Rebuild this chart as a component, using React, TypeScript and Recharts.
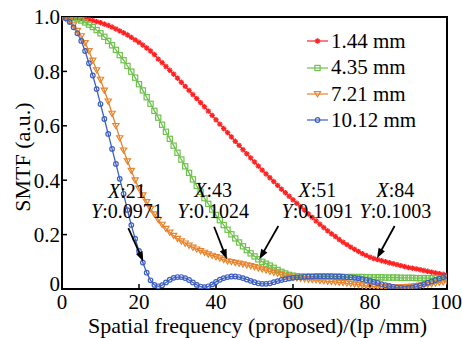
import React from 'react';
import { LineChart, Line, XAxis, YAxis, ReferenceArea, ReferenceDot, Label } from 'recharts';

const FONT = '"Liberation Serif", "Times New Roman", serif';

// Spatial frequency categories (lp/mm)
const frequency = Array.from({ length: 101 }, (_, i) => i);

const smtf144 = [
  1.000, 1.000, 0.999, 0.998, 0.997, 0.995, 0.993, 0.990, 0.987, 0.983,
  0.979, 0.974, 0.969, 0.963, 0.956, 0.949, 0.942, 0.934, 0.925, 0.916,
  0.907, 0.897, 0.886, 0.875, 0.862, 0.845, 0.832, 0.818, 0.804, 0.790,
  0.775, 0.760, 0.745, 0.730, 0.715, 0.700, 0.685, 0.670, 0.654, 0.638,
  0.622, 0.606, 0.590, 0.575, 0.559, 0.543, 0.528, 0.512, 0.497, 0.482,
  0.467, 0.452, 0.437, 0.423, 0.409, 0.395, 0.381, 0.367, 0.354, 0.341,
  0.328, 0.315, 0.302, 0.290, 0.276, 0.263, 0.250, 0.238, 0.226, 0.214,
  0.203, 0.193, 0.182, 0.172, 0.163, 0.154, 0.146, 0.138, 0.130, 0.1235,
  0.117, 0.112, 0.108, 0.104, 0.1003, 0.0965, 0.093, 0.0895, 0.086, 0.0825,
  0.079, 0.0765, 0.074, 0.071, 0.068, 0.065, 0.062, 0.059, 0.0565, 0.054,
  0.051,
];

const smtf435 = [
  1.000, 1.000, 0.998, 0.996, 0.992, 0.987, 0.980, 0.972, 0.963, 0.952,
  0.940, 0.927, 0.912, 0.896, 0.879, 0.860, 0.841, 0.820, 0.799, 0.777,
  0.753, 0.730, 0.705, 0.681, 0.655, 0.630, 0.604, 0.578, 0.552, 0.527,
  0.501, 0.476, 0.451, 0.427, 0.403, 0.379, 0.357, 0.334, 0.313, 0.292,
  0.272, 0.253, 0.235, 0.218, 0.201, 0.186, 0.171, 0.157, 0.143, 0.131,
  0.120, 0.1091, 0.100, 0.093, 0.086, 0.078, 0.070, 0.063, 0.057, 0.052,
  0.049, 0.047, 0.046, 0.045, 0.045, 0.045, 0.045, 0.045, 0.045, 0.045,
  0.045, 0.045, 0.045, 0.044, 0.044, 0.044, 0.044, 0.044, 0.044, 0.043,
  0.043, 0.043, 0.043, 0.043, 0.042, 0.042, 0.042, 0.042, 0.041, 0.041,
  0.041, 0.041, 0.040, 0.040, 0.040, 0.040, 0.040, 0.040, 0.040, 0.040,
  0.040,
];

const smtf721 = [
  1.000, 0.995, 0.985, 0.970, 0.950, 0.930, 0.905, 0.875, 0.840, 0.805,
  0.770, 0.730, 0.690, 0.645, 0.600, 0.555, 0.510, 0.470, 0.435, 0.400,
  0.370, 0.345, 0.320, 0.295, 0.275, 0.255, 0.237, 0.222, 0.208, 0.196,
  0.185, 0.176, 0.168, 0.160, 0.153, 0.146, 0.140, 0.134, 0.128, 0.123,
  0.118, 0.113, 0.108, 0.1024, 0.100, 0.097, 0.094, 0.091, 0.088, 0.085,
  0.081, 0.077, 0.073, 0.069, 0.065, 0.061, 0.057, 0.053, 0.049, 0.046,
  0.043, 0.041, 0.039, 0.037, 0.035, 0.034, 0.033, 0.031, 0.030, 0.028,
  0.027, 0.026, 0.024, 0.023, 0.021, 0.020, 0.018, 0.016, 0.014, 0.012,
  0.011, 0.010, 0.009, 0.008, 0.008, 0.007, 0.007, 0.007, 0.007, 0.008,
  0.009, 0.010, 0.011, 0.013, 0.015, 0.017, 0.019, 0.021, 0.024, 0.026,
  0.029,
];

const smtf1012 = [
  1.000, 0.995, 0.982, 0.962, 0.940, 0.912, 0.875, 0.830, 0.785, 0.735,
  0.680, 0.625, 0.570, 0.515, 0.460, 0.405, 0.350, 0.290, 0.235, 0.185,
  0.140, 0.0971, 0.060, 0.032, 0.015, 0.010, 0.014, 0.024, 0.034, 0.041,
  0.044, 0.044, 0.040, 0.033, 0.024, 0.015, 0.009, 0.007, 0.010, 0.017,
  0.026, 0.034, 0.040, 0.044, 0.046, 0.046, 0.044, 0.040, 0.035, 0.030,
  0.025, 0.021, 0.019, 0.019, 0.021, 0.025, 0.029, 0.033, 0.036, 0.039,
  0.041, 0.043, 0.044, 0.045, 0.046, 0.046, 0.047, 0.047, 0.047, 0.047,
  0.047, 0.046, 0.046, 0.045, 0.044, 0.043, 0.041, 0.039, 0.036, 0.033,
  0.030, 0.026, 0.022, 0.018, 0.014, 0.011, 0.008, 0.005, 0.004, 0.003,
  0.004, 0.006, 0.009, 0.013, 0.018, 0.023, 0.028, 0.033, 0.038, 0.043,
  0.048,
];

const seriesKeys = ['s144', 's435', 's721', 's1012'];
const seriesNames = ['1.44 mm', '4.35 mm', '7.21 mm', '10.12 mm'];
const seriesColors = ['#ff2222', '#6fc24c', '#e8842c', '#3d5fc2'];
const seriesMarkers = ['star', 'square', 'triangle', 'circle'];
const seriesValues = [smtf144, smtf435, smtf721, smtf1012];

const xTicks = [0, 20, 40, 60, 80, 100];
const yTicks = [0, 0.2, 0.4, 0.6, 0.8, 1.0];

const annotX = [21, 43, 51, 84];
const annotY = [0.0971, 0.1024, 0.1091, 0.1003];
const annotXText = ['21', '43', '51', '84'];
const annotYText = ['0.0971', '0.1024', '0.1091', '0.1003'];
// pixel layout of each callout relative to its data point
const annotLayout = [
  { tip: [0.5, -1], tail: [-14.5, -34.5], tx: -16, xb: -65, yb: -45 },
  { tip: [-0.7, -1.8], tail: [-13.4, -34.4], tx: -14.4, xb: -64, yb: -43.6 },
  { tip: [1, 0], tail: [20, -33.3], tx: 59, xb: -62.3, yb: -41.8 },
  { tip: [-8.4, -3.4], tail: [9.2, -35.7], tx: 10, xb: -64.7, yb: -44.2 },
];

const data = frequency.map((f, i) => {
  const row: any = { f };
  seriesKeys.forEach((k, s) => {
    row[k] = seriesValues[s][i];
  });
  return row;
});

function Marker({ kind, cx, cy, color }: { kind: string; cx: number; cy: number; color: string }) {
  if (cx == null || cy == null) return null;
  if (kind === 'star') {
    const r = 2.7;
    return (
      <g stroke={color} strokeWidth={1.4} fill="none">
        <line x1={cx - r} y1={cy} x2={cx + r} y2={cy} />
        <line x1={cx} y1={cy - r} x2={cx} y2={cy + r} />
        <line x1={cx - r * 0.7} y1={cy - r * 0.7} x2={cx + r * 0.7} y2={cy + r * 0.7} />
        <line x1={cx - r * 0.7} y1={cy + r * 0.7} x2={cx + r * 0.7} y2={cy - r * 0.7} />
      </g>
    );
  }
  if (kind === 'square') {
    return <rect x={cx - 2.6} y={cy - 2.6} width={5.2} height={5.2} fill="none" stroke={color} strokeWidth={1.2} />;
  }
  if (kind === 'triangle') {
    return (
      <polygon
        points={`${cx - 3.1},${cy - 2.3} ${cx + 3.1},${cy - 2.3} ${cx},${cy + 2.9}`}
        fill="none"
        stroke={color}
        strokeWidth={1.2}
      />
    );
  }
  return <circle cx={cx} cy={cy} r={2.3} fill="none" stroke={color} strokeWidth={1.2} />;
}

function Callout({ cx, cy, idx }: { cx: number; cy: number; idx: number }) {
  const L = annotLayout[idx];
  const tipX = cx + L.tip[0];
  const tipY = cy + L.tip[1];
  const tailX = cx + L.tail[0];
  const tailY = cy + L.tail[1];
  const dx = tipX - tailX;
  const dy = tipY - tailY;
  const len = Math.sqrt(dx * dx + dy * dy);
  const ux = dx / len;
  const uy = dy / len;
  const hl = 10;
  const hw = 3.6;
  const bx = tipX - ux * hl;
  const by = tipY - uy * hl;
  const p1 = `${bx - uy * hw},${by + ux * hw}`;
  const p2 = `${bx + uy * hw},${by - ux * hw}`;
  return (
    <g>
      <line x1={tailX} y1={tailY} x2={bx + ux * 2} y2={by + uy * 2} stroke="#000" strokeWidth={1.8} />
      <polygon points={`${tipX},${tipY} ${p1} ${p2}`} fill="#000" />
      <text x={cx + L.tx} y={cy + L.xb} textAnchor="middle" fontFamily={FONT} fontSize={20} fill="#000">
        <tspan fontStyle="italic">X</tspan>:{annotXText[idx]}
      </text>
      <text x={cx + L.tx} y={cy + L.yb} textAnchor="middle" fontFamily={FONT} fontSize={20} fill="#000">
        <tspan fontStyle="italic">Y</tspan>:{annotYText[idx]}
      </text>
    </g>
  );
}

function YTick(props: any) {
  const { x, y, payload } = props;
  const v = payload.value as number;
  const label = v === 0 ? '0' : v.toFixed(1);
  return (
    <text
      x={x}
      y={y + (v === 0 ? -5 : 0)}
      dy="0.355em"
      textAnchor="end"
      fontFamily={FONT}
      fontSize={21}
      fill="#000"
    >
      {label}
    </text>
  );
}

function LegendBox() {
  return (
    <div style={{ position: 'absolute', left: 305, top: 28, fontFamily: FONT, fontSize: 21, color: '#000' }}>
      {seriesNames.map((name, i) => (
        <div key={name} style={{ display: 'flex', alignItems: 'center', height: 26.4 }}>
          <svg width={24} height={12} style={{ display: 'block' }}>
            <line x1={2} y1={6} x2={23} y2={6} stroke={seriesColors[i]} strokeWidth={1.2} />
            <Marker kind={seriesMarkers[i]} cx={12.5} cy={6} color={seriesColors[i]} />
          </svg>
          <span style={{ marginLeft: 2, lineHeight: '26.4px', whiteSpace: 'nowrap' }}>{name}</span>
        </div>
      ))}
    </div>
  );
}

export default function App() {
  const tickStyle = { fontFamily: FONT, fontSize: 21, fill: '#000' };
  return (
    <div style={{ position: 'absolute', left: 0, top: 0, width: 462, height: 338, background: '#fff' }}>
      <LineChart width={462} height={338} data={data} margin={{ top: 17, right: 15, left: 0, bottom: 0 }}>
        <XAxis
          dataKey="f"
          type="number"
          domain={[0, 100]}
          ticks={xTicks}
          height={49}
          tick={tickStyle}
          tickSize={-5}
          tickMargin={10}
          axisLine={{ stroke: '#000', strokeWidth: 2 }}
          tickLine={{ stroke: '#000', strokeWidth: 1.5 }}
          allowDataOverflow
        >
          <Label
            value="Spatial frequency (proposed)/(lp /mm)"
            position="insideBottom"
            offset={5}
            dx={3}
            style={{ fontFamily: FONT, fontSize: 22, fill: '#000' }}
          />
        </XAxis>
        <YAxis
          type="number"
          domain={[0, 1]}
          ticks={yTicks}
          width={62}
          tick={<YTick />}
          tickSize={-5}
          tickMargin={7}
          axisLine={{ stroke: '#000', strokeWidth: 2 }}
          tickLine={{ stroke: '#000', strokeWidth: 1.5 }}
          allowDataOverflow
        >
          <Label
            content={() => (
              <text
                x={22}
                y={157}
                transform="rotate(-90 22 157)"
                textAnchor="middle"
                dominantBaseline="central"
                fontFamily={FONT}
                fontSize={22}
                fill="#000"
              >
                SMTF (a.u.)
              </text>
            )}
          />
        </YAxis>
        {seriesKeys.map((k, s) => (
          <Line
            key={k}
            dataKey={k}
            name={seriesNames[s]}
            type="linear"
            stroke={seriesColors[s]}
            strokeWidth={1.3}
            isAnimationActive={false}
            dot={(p: any) => (
              <Marker key={`${k}-${p.index}`} kind={seriesMarkers[s]} cx={p.cx} cy={p.cy} color={seriesColors[s]} />
            )}
            activeDot={false}
          />
        ))}
        <ReferenceArea x1={0} x2={100} y1={0} y2={1} fill="none" stroke="#000" strokeWidth={2} ifOverflow="visible" />
        {annotX.map((x, i) => (
          <ReferenceDot
            key={`a${i}`}
            x={x}
            y={annotY[i]}
            r={1}
            ifOverflow="visible"
            shape={(p: any) => <Callout cx={p.cx} cy={p.cy} idx={i} />}
          />
        ))}
      </LineChart>
      <LegendBox />
    </div>
  );
}
